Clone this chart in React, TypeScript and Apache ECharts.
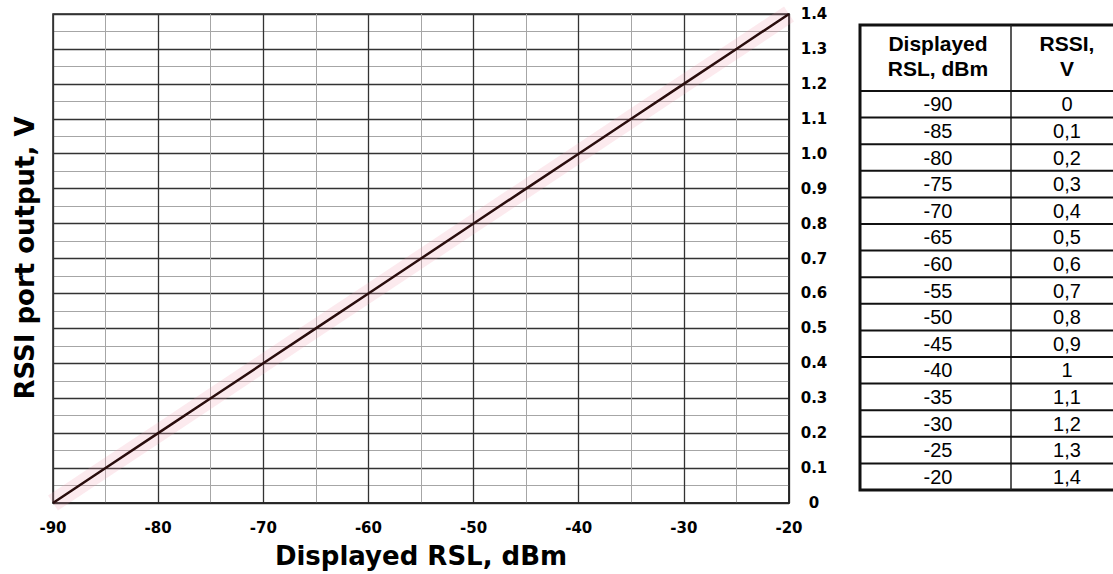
import React, { useEffect, useRef } from "react";
import * as echarts from "echarts";

// ---- data ----
const rslDbm: number[] = [-90, -85, -80, -75, -70, -65, -60, -55, -50, -45, -40, -35, -30, -25, -20];
const rssiVolts: number[] = [0, 0.1, 0.2, 0.3, 0.4, 0.5, 0.6, 0.7, 0.8, 0.9, 1.0, 1.1, 1.2, 1.3, 1.4];
const tableRslText: string[] = ["-90", "-85", "-80", "-75", "-70", "-65", "-60", "-55", "-50", "-45", "-40", "-35", "-30", "-25", "-20"];
const tableRssiText: string[] = ["0", "0,1", "0,2", "0,3", "0,4", "0,5", "0,6", "0,7", "0,8", "0,9", "1", "1,1", "1,2", "1,3", "1,4"];
const tableHeaderCol1: string[] = ["Displayed", "RSL, dBm"];
const tableHeaderCol2: string[] = ["RSSI,", "V"];
const xAxisTitle = "Displayed RSL, dBm";
const yAxisTitle = "RSSI port output, V";

export default function App() {
  const ref = useRef<HTMLDivElement>(null);

  useEffect(() => {
    if (!ref.current) return;
    const chart = echarts.init(ref.current, undefined, { renderer: "svg" });

    const lineData = rslDbm.map((x, i) => [x, rssiVolts[i]]);

    // table geometry
    const tL = 860, tDiv = 1011, tR = 1123, tTop = 25, hdrBottom = 91, rowH = 26.6;
    const nRows = tableRslText.length;
    const tBottom = hdrBottom + rowH * nRows;
    const c1 = 938, c2 = 1067;
    const tableEls: any[] = [];
    tableEls.push({
      type: "rect",
      shape: { x: tL, y: tTop, width: tR - tL, height: tBottom - tTop },
      style: { fill: "#fff", stroke: "#111", lineWidth: 3 },
      silent: true,
    });
    tableEls.push({
      type: "line",
      shape: { x1: tDiv, y1: tTop, x2: tDiv, y2: tBottom },
      style: { stroke: "#222", lineWidth: 1.5 },
    });
    for (let i = 0; i <= nRows - 1; i++) {
      const y = hdrBottom + rowH * i;
      tableEls.push({
        type: "line",
        shape: { x1: tL, y1: y, x2: tR, y2: y },
        style: { stroke: "#111", lineWidth: 2 },
      });
    }
    const txt = (text: string, x: number, y: number, font: string) => ({
      type: "text",
      x,
      y,
      style: {
        text,
        font,
        fill: "#000",
        align: "center",
        verticalAlign: "middle",
        textAlign: "center",
        textVerticalAlign: "middle",
      },
    });
    const hdrFont = "bold 21px 'Liberation Sans', Arial, sans-serif";
    const bodyFont = "20px 'Liberation Sans', Arial, sans-serif";
    tableHeaderCol1.forEach((t, i) => tableEls.push(txt(t, c1, 43 + i * 25, hdrFont)));
    tableHeaderCol2.forEach((t, i) => tableEls.push(txt(t, c2, 43 + i * 25, hdrFont)));
    tableRslText.forEach((t, i) => tableEls.push(txt(t, c1, hdrBottom + rowH * (i + 0.5), bodyFont)));
    tableRssiText.forEach((t, i) => tableEls.push(txt(t, c2, hdrBottom + rowH * (i + 0.5), bodyFont)));

    // y axis title (rotated)
    tableEls.push({
      type: "text",
      x: 25,
      y: 258,
      rotation: Math.PI / 2,
      style: {
        text: yAxisTitle,
        font: "bold 26px 'DejaVu Sans', sans-serif",
        fill: "#000",
        align: "center",
        verticalAlign: "middle",
        textAlign: "center",
        textVerticalAlign: "middle",
      },
    });

    const option: any = {
      animation: false,
      backgroundColor: "#fff",
      grid: {
        left: 53,
        right: 1113 - 789,
        top: 14,
        bottom: 574 - 503,
        show: true,
        borderColor: "#222",
        borderWidth: 1.5,
        backgroundColor: "transparent",
      },
      xAxis: {
        type: "value",
        min: -90,
        max: -20,
        interval: 10,
        name: xAxisTitle,
        nameLocation: "middle",
        nameGap: 40,
        nameTextStyle: {
          fontFamily: "'DejaVu Sans', sans-serif",
          fontWeight: "bold",
          fontSize: 26,
          color: "#000",
        },
        axisLine: { show: true, lineStyle: { color: "#222", width: 1.5 } },
        axisTick: { show: false },
        axisLabel: {
          margin: 17,
          fontFamily: "'DejaVu Sans', sans-serif",
          fontWeight: "bold",
          fontSize: 15,
          color: "#000",
        },
        splitLine: { show: true, lineStyle: { color: "#333", width: 1.3 } },
        minorTick: { show: false, splitNumber: 2 },
        minorSplitLine: { show: true, lineStyle: { color: "#a6a6a6", width: 1 } },
      },
      yAxis: {
        type: "value",
        position: "right",
        min: 0,
        max: 1.4,
        interval: 0.1,
        axisLine: { show: true, lineStyle: { color: "#222", width: 1.5 } },
        axisTick: { show: false },
        axisLabel: {
          margin: 25,
          align: "center",
          fontFamily: "'DejaVu Sans', sans-serif",
          fontWeight: "bold",
          fontSize: 15,
          color: "#000",
          formatter: (v: number) => (v === 0 ? "0" : v.toFixed(1)),
        },
        splitLine: { show: true, lineStyle: { color: "#333", width: 1.3 } },
        minorTick: { show: false, splitNumber: 2 },
        minorSplitLine: { show: true, lineStyle: { color: "#a6a6a6", width: 1 } },
      },
      series: [
        {
          type: "line",
          data: lineData,
          symbol: "none",
          silent: true,
          lineStyle: { color: "rgba(240,150,170,0.2)", width: 18 },
          z: 1,
        },
        {
          type: "line",
          data: lineData,
          symbol: "none",
          lineStyle: { color: "#2a0d0d", width: 2.5 },
          z: 3,
        },
      ],
      graphic: tableEls,
    };

    chart.setOption(option);
    return () => chart.dispose();
  }, []);

  return (
    <div
      ref={ref}
      style={{ position: "fixed", left: 0, top: 0, width: 1113, height: 574, background: "#fff" }}
    />
  );
}
